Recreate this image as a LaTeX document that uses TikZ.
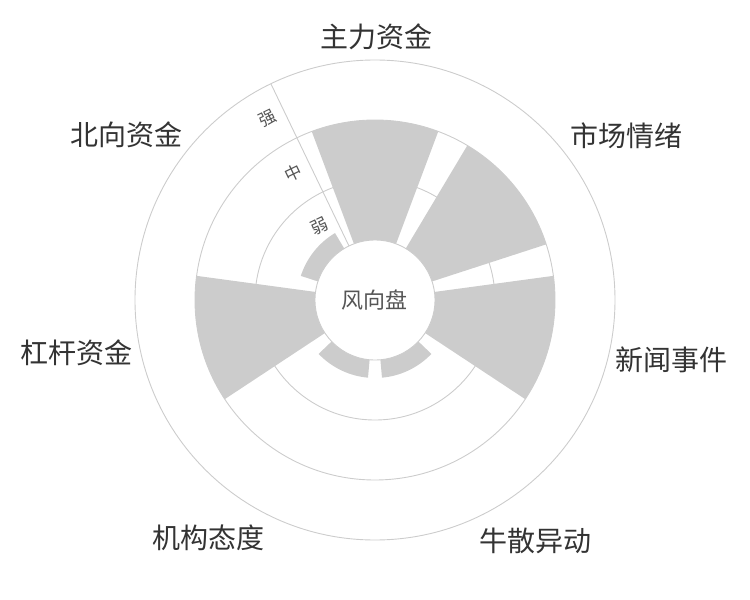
\documentclass[tikz,border=0pt]{standalone}
\usepackage{fontspec}
\usepackage{tikz}
\usetikzlibrary{calc}
\setmainfont{Noto Sans CJK SC}

\definecolor{gridgray}{HTML}{CCCCCC}
\definecolor{bargray}{HTML}{CCCCCC}
\definecolor{textdark}{HTML}{333333}
\definecolor{textmid}{HTML}{555555}

\tikzset{
    gridline/.style={draw=gridgray, line width=0.9pt},
    barfill/.style={fill=bargray},
    catlabel/.style={text=textdark, inner sep=0pt, font=\fontsize{28}{30}\selectfont},
    ringlabel/.style={text=textmid, inner sep=0pt, font=\fontsize{17}{19}\selectfont},
    hublabel/.style={text=textmid, inner sep=0pt, font=\fontsize{22}{24}\selectfont}
}

\begin{document}
\begin{tikzpicture}[x=1pt, y=1pt]
            \useasboundingbox (-375,-300) rectangle (375,300);

            %grid rings
            \foreach \r in {120,180,240}
            {
                \draw[gridline] (0,0) circle (\r);
            }

            %bars, one per sector
            \foreach \i/\r in {0/180,1/180,2/180,3/78,4/78,5/180,6/78}
            {
                \pgfmathsetmacro\a{90-\i*360/7}
                \pgfmathsetmacro\lo{\a-20.57}
                \pgfmathsetmacro\hi{\a+20.57}
                \fill[barfill] (\lo:60) arc[start angle=\lo, end angle=\hi, radius=60]
                    -- (\hi:\r) arc[start angle=\hi, end angle=\lo, radius=\r] -- cycle;
            }

            %hub
            \node[circle, minimum size=120pt, fill=white, draw=gridgray, line width=0.9pt, inner sep=0pt] (hub) at (0,0) {};
            \node[hublabel] (hubtext) at (hub.center) {风向盘};

            %radial axis with levels
            \coordinate (axisin) at (115.71:60);
            \coordinate (axisout) at (115.71:240);
            \draw[gridline] (axisin) -- (axisout);
            \foreach \r/\lbl/\n in {90/弱/weak,150/中/mid,210/强/strong}
            {
                \node[ringlabel, rotate=25.71] (lvl\n) at ($(115.71:\r)+(205.71:18)$) {\lbl};
            }

            %category labels
            \foreach \x/\y/\name/\n in {1.5/263.5/主力资金/zhuli, 251.5/164.5/市场情绪/shichang,
                296.5/-60/新闻事件/xinwen, 160.5/-241/牛散异动/niusan, -166.5/-238/机构态度/jigou,
                -298.5/-53/杠杆资金/ganggan, -248/165.5/北向资金/beixiang}
            {
                \node[catlabel] (\n) at (\x,\y) {\name};
            }

        \end{tikzpicture}
\end{document}
